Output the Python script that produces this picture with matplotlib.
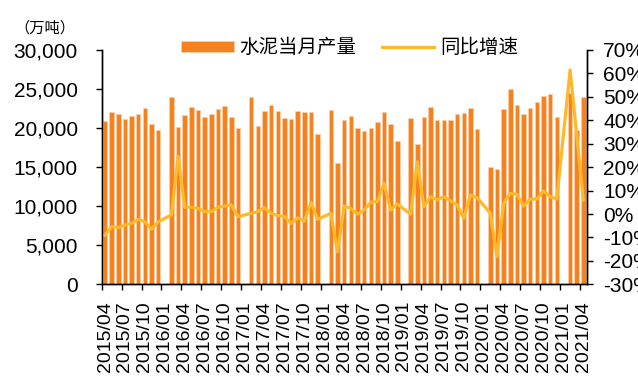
import numpy as np
import matplotlib
matplotlib.use('Agg')
import matplotlib.pyplot as plt
from matplotlib.ticker import FuncFormatter, FixedLocator

plt.rcParams['font.family'] = ['Liberation Sans', 'Noto Sans CJK SC']

# 2015/04 - 2021/04, 1月数据缺失
months = [f'{y}/{m:02d}' for y in range(2015, 2022) for m in range(1, 13)]
months = months[months.index('2015/04'):months.index('2021/04') + 1]

nan = np.nan
output = [
    20870, 22060, 21760, 21210, 21550, 21760, 22530, 20480, 19800,
    nan, 23940, 20140, 21680, 22660, 22320, 21420, 21760, 22400, 22790, 21420, 19970,
    nan, 24020, 20230, 22150, 22910, 22150, 21290, 21210, 22150, 22020, 22060, 19200,
    nan, 22270, 15490, 21080, 21550, 20010, 19630, 20010, 20780, 22060, 20570, 18390,
    nan, 21250, 17960, 21380, 22700, 20990, 20990, 20990, 21760, 21890, 22530, 19930,
    nan, 14980, 14760, 22400, 24960, 22910, 21850, 22570, 23380, 24110, 24370, 21380,
    nan, 24450, 19760, 23980,
]
yoy = [
    -9.0, -5.4, -5.8, -4.7, -4.0, -2.3, -3.3, -6.5, -3.3,
    nan, -0.4, 24.5, 2.9, 2.9, 2.4, 1.0, 1.0, 2.9, 3.4, 3.9, -1.1,
    nan, 0.3, 1.0, 2.7, 0.3, -0.7, -1.1, -4.0, -1.6, -3.0, 5.0, -2.3,
    nan, 0.3, -16.1, 3.4, 2.4, -0.1, 1.7, 5.0, 5.3, 13.1, 1.7, 4.3,
    nan, -0.1, 22.3, 3.1, 7.4, 6.0, 7.4, 5.6, 3.9, -1.8, 8.1, 7.0,
    nan, 0.3, -18.2, 4.6, 8.8, 8.4, 3.4, 6.4, 6.4, 9.8, 7.4, 6.4,
    nan, 61.5, 33.5, 6.0,
]

bar_color = '#F5821F'
line_color = '#FDB92A'

x = np.arange(len(months))
output = np.array(output, dtype=float)
yoy = np.array(yoy, dtype=float)

fig = plt.figure(figsize=(6.38, 3.77), dpi=100)
ax = fig.add_axes([0.1594, 0.2459, 0.7602, 0.6215])
ax2 = ax.twinx()

bars = ax.bar(x, output, width=0.68, color=bar_color, edgecolor='#FAD0AC', linewidth=0.5,
              label='水泥当月产量', zorder=2)
ok = ~np.isnan(yoy)
line, = ax2.plot(x[ok], yoy[ok], color=line_color, lw=2.3, label='同比增速', zorder=3)

ax.set_xlim(-0.5, len(months) - 0.5)
ax.set_ylim(0, 30000)
ax.set_yticks(np.arange(0, 30001, 5000))
ax.yaxis.set_major_formatter(FuncFormatter(lambda v, p: f'{v:,.0f}'))
ax2.set_ylim(-30, 70)
ax2.set_yticks(np.arange(-30, 71, 10))
ax2.yaxis.set_major_formatter(FuncFormatter(lambda v, p: f'{v:.0f}%'))

lab_idx = [i for i in range(len(months)) if i % 3 == 0]
ax.set_xticks(lab_idx)
ax.set_xticklabels([months[i] for i in lab_idx], rotation=90, fontsize=14)
ax.xaxis.set_minor_locator(FixedLocator([i - 0.5 for i in lab_idx]))
ax.tick_params(axis='x', which='major', length=0, pad=12)
ax.tick_params(axis='x', which='minor', length=4.5, width=1, direction='out')
ax.tick_params(axis='y', labelsize=15, length=4.3, width=1, pad=13)
ax2.tick_params(axis='y', labelsize=15, length=4, width=1, pad=8)

for a in (ax, ax2):
    a.spines['top'].set_visible(False)
    for s in ('left', 'right', 'bottom'):
        a.spines[s].set_linewidth(1)

ax.set_zorder(ax2.get_zorder() - 1)
ax.patch.set_visible(False)
ax2.patch.set_visible(False)

fig.text(14 / 638, 1 - 28 / 377, '（万吨）', fontsize=11, ha='left', va='center')

fig.legend([bars, line], ['水泥当月产量', '同比增速'], ncol=2, frameon=False,
           loc='center left', bbox_to_anchor=(181 / 638, 1 - 48 / 377),
           fontsize=14, handlelength=2.7, handleheight=0.46, handletextpad=0.3,
           columnspacing=1.3, borderpad=0, borderaxespad=0)

fig.savefig('out.png', dpi=100)
